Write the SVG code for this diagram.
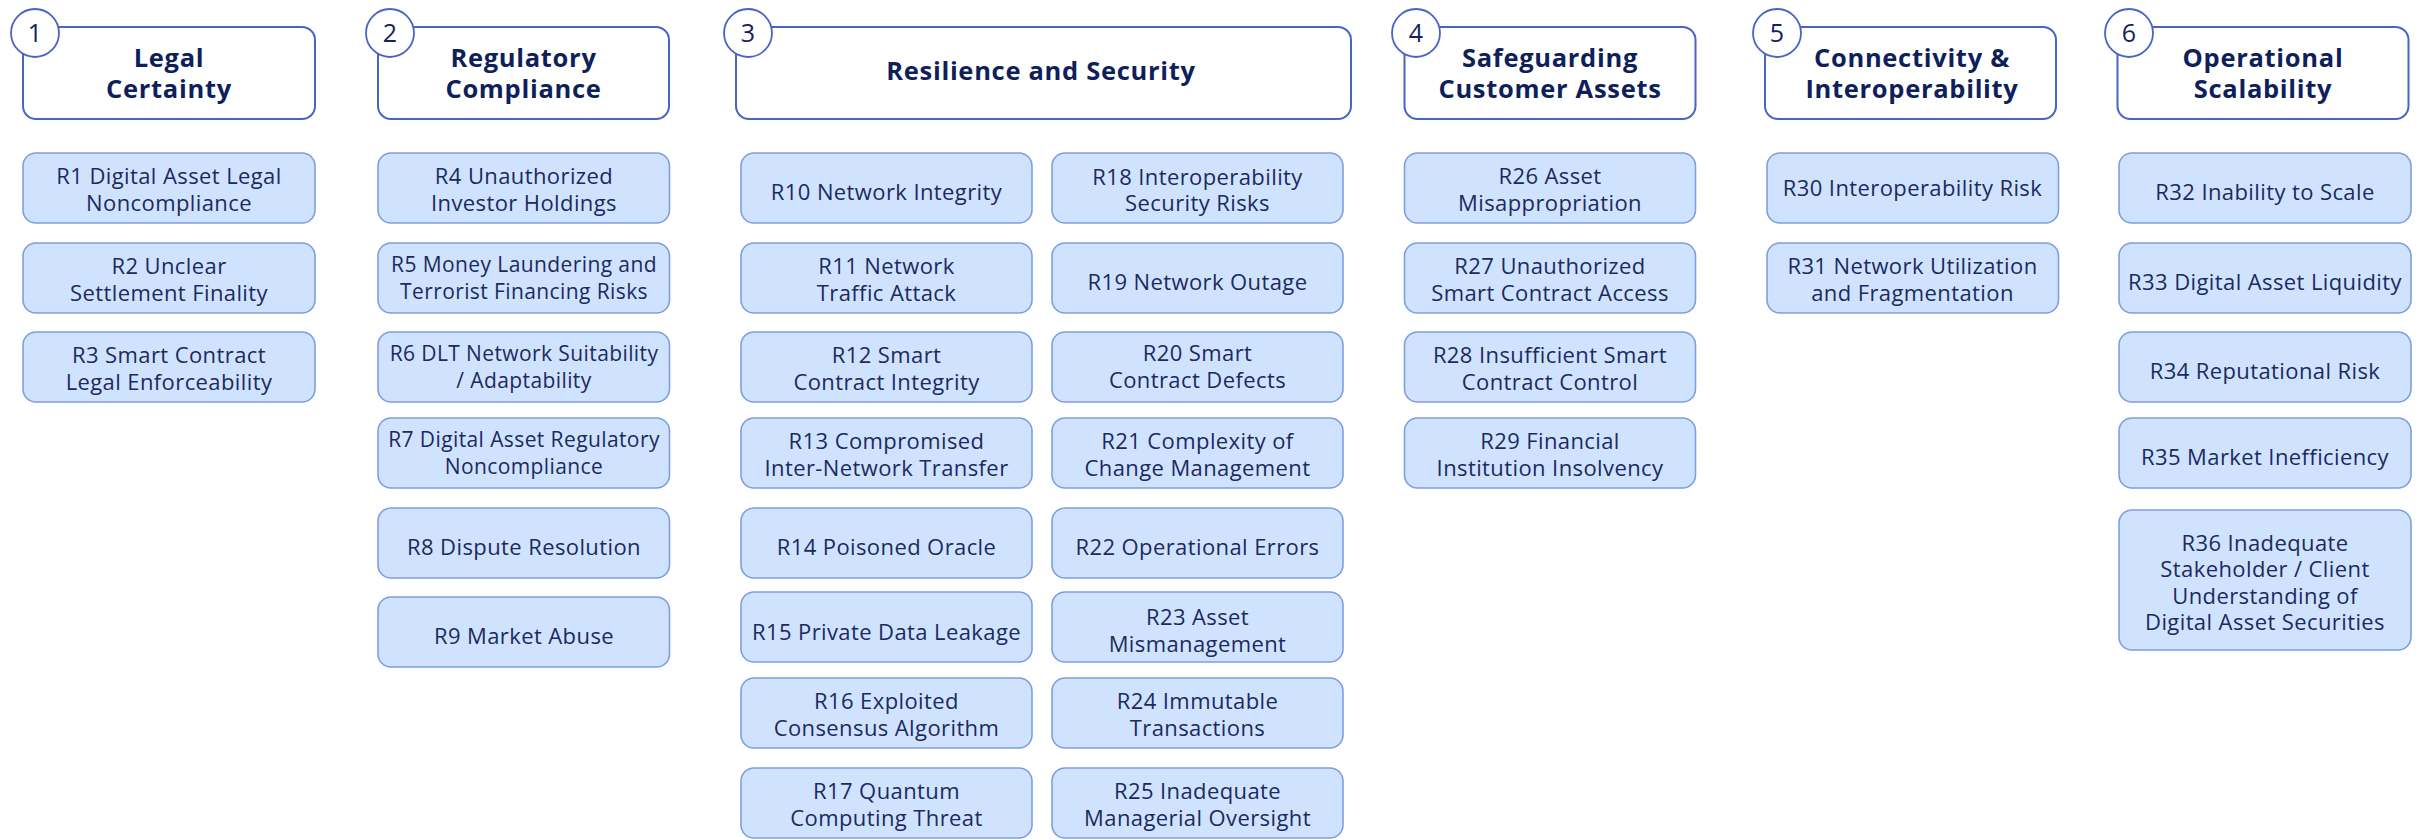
<svg xmlns="http://www.w3.org/2000/svg" width="2430" height="840" viewBox="0 0 2430 840">
<style>
.hdr{fill:#ffffff;stroke:#4a64c2;stroke-width:2}
.num{fill:#ffffff;stroke:#4a64c2;stroke-width:1.8}
.numt{font-family:"Open Sans","Liberation Sans",sans-serif;font-size:25px;fill:#13235e;text-anchor:middle}
.ttl{font-family:"Open Sans","Liberation Sans",sans-serif;font-size:25.5px;letter-spacing:0.7px;font-weight:700;fill:#0e1f5b;text-anchor:middle}
.item{fill:#d0e3fe;stroke:#7f9ee0;stroke-width:1.6}
.it{font-family:"Open Sans","Liberation Sans",sans-serif;font-size:22px;letter-spacing:0.4px;fill:#1c2a5e;text-anchor:middle}
.sm{font-size:21px}
</style>
<rect width="2430" height="840" fill="#ffffff"/>
<g id="connectors"></g>

<g id="h1"><rect class="hdr" x="23" y="27" width="292" height="92" rx="13"/><circle class="num" cx="35" cy="33" r="24"/><text class="numt" x="35" y="42">1</text><text class="ttl" x="169" y="67">Legal<tspan x="169" dy="31">Certainty</tspan></text></g>
<g id="h2"><rect class="hdr" x="378" y="27" width="291" height="92" rx="13"/><circle class="num" cx="390" cy="33" r="24"/><text class="numt" x="390" y="42">2</text><text class="ttl" x="523.5" y="67">Regulatory<tspan x="523.5" dy="31">Compliance</tspan></text></g>
<g id="h3"><rect class="hdr" x="736" y="27" width="615" height="92" rx="13"/><circle class="num" cx="748" cy="33" r="24"/><text class="numt" x="748" y="42">3</text><text class="ttl" x="1041" y="80">Resilience and Security</text></g>
<g id="h4"><rect class="hdr" x="1404.5" y="27" width="291" height="92" rx="13"/><circle class="num" cx="1416" cy="33" r="24"/><text class="numt" x="1416" y="42">4</text><text class="ttl" x="1550" y="67">Safeguarding<tspan x="1550" dy="31">Customer Assets</tspan></text></g>
<g id="h5"><rect class="hdr" x="1765" y="27" width="291" height="92" rx="13"/><circle class="num" cx="1777" cy="33" r="24"/><text class="numt" x="1777" y="42">5</text><text class="ttl" x="1912" y="67">Connectivity &amp;<tspan x="1912" dy="31">Interoperability</tspan></text></g>
<g id="h6"><rect class="hdr" x="2117.5" y="27" width="291" height="92" rx="13"/><circle class="num" cx="2129" cy="33" r="24"/><text class="numt" x="2129" y="42">6</text><text class="ttl" x="2263" y="67">Operational<tspan x="2263" dy="31">Scalability</tspan></text></g>

<g id="r1"><rect class="item" x="23" y="153" width="292" height="70" rx="13"/><text class="it" x="169" y="184">R1 Digital Asset Legal<tspan x="169" dy="26.5">Noncompliance</tspan></text></g>
<g id="r2"><rect class="item" x="23" y="243" width="292" height="70" rx="13"/><text class="it" x="169" y="274">R2 Unclear<tspan x="169" dy="26.5">Settlement Finality</tspan></text></g>
<g id="r3"><rect class="item" x="23" y="332" width="292" height="70" rx="13"/><text class="it" x="169" y="363">R3 Smart Contract<tspan x="169" dy="26.5">Legal Enforceability</tspan></text></g>

<g id="r4"><rect class="item" x="378" y="153" width="291.5" height="70" rx="13"/><text class="it" x="524" y="184">R4 Unauthorized<tspan x="524" dy="26.5">Investor Holdings</tspan></text></g>
<g id="r5"><rect class="item" x="378" y="243" width="291.5" height="70" rx="13"/><text class="it sm" x="524" y="272">R5 Money Laundering and<tspan x="524" dy="26.5">Terrorist Financing Risks</tspan></text></g>
<g id="r6"><rect class="item" x="378" y="332" width="291.5" height="70" rx="13"/><text class="it sm" x="524" y="361">R6 DLT Network Suitability<tspan x="524" dy="26.5">/ Adaptability</tspan></text></g>
<g id="r7"><rect class="item" x="378" y="418" width="291.5" height="70" rx="13"/><text class="it sm" x="524" y="447">R7 Digital Asset Regulatory<tspan x="524" dy="26.5">Noncompliance</tspan></text></g>
<g id="r8"><rect class="item" x="378" y="508" width="291.5" height="70" rx="13"/><text class="it" x="524" y="555">R8 Dispute Resolution</text></g>
<g id="r9"><rect class="item" x="378" y="597" width="291.5" height="70" rx="13"/><text class="it" x="524" y="644">R9 Market Abuse</text></g>

<g id="r10"><rect class="item" x="741" y="153" width="291" height="70" rx="13"/><text class="it" x="886.5" y="199.5">R10 Network Integrity</text></g>
<g id="r11"><rect class="item" x="741" y="243" width="291" height="70" rx="13"/><text class="it" x="886.5" y="274">R11 Network<tspan x="886.5" dy="26.5">Traffic Attack</tspan></text></g>
<g id="r12"><rect class="item" x="741" y="332" width="291" height="70" rx="13"/><text class="it" x="886.5" y="363">R12 Smart<tspan x="886.5" dy="26.5">Contract Integrity</tspan></text></g>
<g id="r13"><rect class="item" x="741" y="418" width="291" height="70" rx="13"/><text class="it" x="886.5" y="449">R13 Compromised<tspan x="886.5" dy="26.5">Inter-Network Transfer</tspan></text></g>
<g id="r14"><rect class="item" x="741" y="508" width="291" height="70" rx="13"/><text class="it" x="886.5" y="555">R14 Poisoned Oracle</text></g>
<g id="r15"><rect class="item" x="741" y="592" width="291" height="70" rx="13"/><text class="it" x="886.5" y="640">R15 Private Data Leakage</text></g>
<g id="r16"><rect class="item" x="741" y="678" width="291" height="70" rx="13"/><text class="it" x="886.5" y="709">R16 Exploited<tspan x="886.5" dy="26.5">Consensus Algorithm</tspan></text></g>
<g id="r17"><rect class="item" x="741" y="768" width="291" height="70" rx="13"/><text class="it" x="886.5" y="799">R17 Quantum<tspan x="886.5" dy="26.5">Computing Threat</tspan></text></g>

<g id="r18"><rect class="item" x="1052" y="153" width="291" height="70" rx="13"/><text class="it" x="1197.5" y="184.5">R18 Interoperability<tspan x="1197.5" dy="26.5">Security Risks</tspan></text></g>
<g id="r19"><rect class="item" x="1052" y="243" width="291" height="70" rx="13"/><text class="it" x="1197.5" y="290">R19 Network Outage</text></g>
<g id="r20"><rect class="item" x="1052" y="332" width="291" height="70" rx="13"/><text class="it" x="1197.5" y="361">R20 Smart<tspan x="1197.5" dy="26.5">Contract Defects</tspan></text></g>
<g id="r21"><rect class="item" x="1052" y="418" width="291" height="70" rx="13"/><text class="it" x="1197.5" y="449">R21 Complexity of<tspan x="1197.5" dy="26.5">Change Management</tspan></text></g>
<g id="r22"><rect class="item" x="1052" y="508" width="291" height="70" rx="13"/><text class="it" x="1197.5" y="555">R22 Operational Errors</text></g>
<g id="r23"><rect class="item" x="1052" y="592" width="291" height="70" rx="13"/><text class="it" x="1197.5" y="625">R23 Asset<tspan x="1197.5" dy="26.5">Mismanagement</tspan></text></g>
<g id="r24"><rect class="item" x="1052" y="678" width="291" height="70" rx="13"/><text class="it" x="1197.5" y="709">R24 Immutable<tspan x="1197.5" dy="26.5">Transactions</tspan></text></g>
<g id="r25"><rect class="item" x="1052" y="768" width="291" height="70" rx="13"/><text class="it" x="1197.5" y="799">R25 Inadequate<tspan x="1197.5" dy="26.5">Managerial Oversight</tspan></text></g>

<g id="r26"><rect class="item" x="1404.5" y="153" width="291" height="70" rx="13"/><text class="it" x="1550" y="184">R26 Asset<tspan x="1550" dy="26.5">Misappropriation</tspan></text></g>
<g id="r27"><rect class="item" x="1404.5" y="243" width="291" height="70" rx="13"/><text class="it" x="1550" y="274">R27 Unauthorized<tspan x="1550" dy="26.5">Smart Contract Access</tspan></text></g>
<g id="r28"><rect class="item" x="1404.5" y="332" width="291" height="70" rx="13"/><text class="it" x="1550" y="363">R28 Insufficient Smart<tspan x="1550" dy="26.5">Contract Control</tspan></text></g>
<g id="r29"><rect class="item" x="1404.5" y="418" width="291" height="70" rx="13"/><text class="it" x="1550" y="449">R29 Financial<tspan x="1550" dy="26.5">Institution Insolvency</tspan></text></g>

<g id="r30"><rect class="item" x="1767" y="153" width="291.5" height="70" rx="13"/><text class="it" x="1912.5" y="196">R30 Interoperability Risk</text></g>
<g id="r31"><rect class="item" x="1767" y="243" width="291.5" height="70" rx="13"/><text class="it" x="1912.5" y="274">R31 Network Utilization<tspan x="1912.5" dy="26.5">and Fragmentation</tspan></text></g>

<g id="r32"><rect class="item" x="2119" y="153" width="292" height="70" rx="13"/><text class="it" x="2265" y="199.5">R32 Inability to Scale</text></g>
<g id="r33"><rect class="item" x="2119" y="243" width="292" height="70" rx="13"/><text class="it" x="2265" y="289.5">R33 Digital Asset Liquidity</text></g>
<g id="r34"><rect class="item" x="2119" y="332" width="292" height="70" rx="13"/><text class="it" x="2265" y="378.5">R34 Reputational Risk</text></g>
<g id="r35"><rect class="item" x="2119" y="418" width="292" height="70" rx="13"/><text class="it" x="2265" y="464.5">R35 Market Inefficiency</text></g>
<g id="r36"><rect class="item" x="2119" y="510" width="292" height="140" rx="13"/><text class="it" x="2265" y="550.5">R36 Inadequate<tspan x="2265" dy="26.5">Stakeholder / Client</tspan><tspan x="2265" dy="26.5">Understanding of</tspan><tspan x="2265" dy="26.5">Digital Asset Securities</tspan></text></g>
</svg>
